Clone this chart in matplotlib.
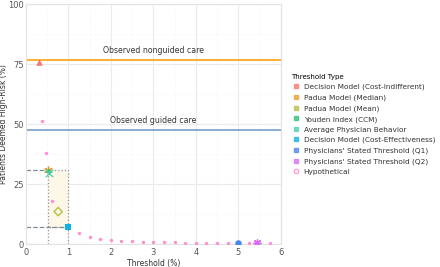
import matplotlib
matplotlib.use('Agg')
import matplotlib.pyplot as plt
from matplotlib.lines import Line2D
from matplotlib.patches import Rectangle

plt.rcParams['font.family'] = ['DejaVu Sans']

# observed reference lines
observed_nonguided = 76.5
observed_guided = 47.6

# hypothetical threshold curve
hyp_x = [0.38, 0.47, 0.61, 1.25, 1.5, 1.75, 2.0, 2.25, 2.5, 2.75, 3.0, 3.25, 3.5,
         3.75, 4.0, 4.25, 4.5, 4.75, 5.25, 5.75]
hyp_y = [51.5, 38.0, 18.2, 4.8, 3.2, 2.3, 1.8, 1.4, 1.2, 1.0, 0.9, 0.8, 0.8,
         0.7, 0.7, 0.6, 0.6, 0.5, 0.5, 0.4]

# named thresholds
labels = ['Decision Model (Cost-Indifferent)', 'Padua Model (Median)', 'Padua Model (Mean)',
          'Youden Index (CCM)', 'Average Physician Behavior',
          'Decision Model (Cost-Effectiveness)', "Physicians' Stated Threshold (Q1)",
          "Physicians' Stated Threshold (Q2)", 'Hypothetical']
thr_x = [0.31, 0.52, 0.76, 0.54, 0.55, 1.0, 5.0, 5.43]
thr_y = [75.8, 30.8, 13.6, 30.2, 29.6, 7.1, 0.5, 0.45]
colors = ['#F8766D', '#E7A12C', '#B5BE45', '#2FC07A', '#4FCFB0', '#0FB2E0',
          '#4A86F0', '#D96CF5', '#FF8FD0']

fig = plt.figure(figsize=(4.4, 2.67), dpi=100)
ax = fig.add_axes([0.059, 0.085, 0.579, 0.9])

# range of plausible thresholds
lo_x, hi_x = thr_x[1], thr_x[5]
lo_y, hi_y = thr_y[5], thr_y[1]
ax.add_patch(Rectangle((lo_x, lo_y), hi_x - lo_x, hi_y - lo_y, facecolor='#FEF6E6',
                       edgecolor='#8C96A0', linestyle=':', linewidth=0.9, zorder=1))
ax.plot([0, lo_x], [hi_y, hi_y], color='#7F8A94', linestyle='--', linewidth=0.9, zorder=1)
ax.plot([0, hi_x], [lo_y, lo_y], color='#7F8A94', linestyle='--', linewidth=0.9, zorder=1)
ax.plot([lo_x, lo_x], [0, lo_y], color='#8C96A0', linestyle=':', linewidth=0.9, zorder=1)
ax.plot([hi_x, hi_x], [0, lo_y], color='#8C96A0', linestyle=':', linewidth=0.9, zorder=1)

ax.axhline(observed_nonguided, color='#FFA91F', linewidth=1.3, zorder=2)
ax.axhline(observed_guided, color='#7FA6D2', linewidth=1.3, zorder=2)
ax.text(3.0, observed_nonguided + 2.2, 'Observed nonguided care', ha='center', va='bottom',
        fontsize=5.6, color='#333333')
ax.text(3.0, observed_guided + 2.2, 'Observed guided care', ha='center', va='bottom',
        fontsize=5.6, color='#333333')

ax.scatter(hyp_x, hyp_y, s=6, color=colors[8], zorder=3, linewidths=0)

markers = ['^', (6, 2, 0), 'D', 'P', 'x', 's', 'o', (8, 2, 0)]
for i in range(8):
    m = markers[i]
    if m == 'D':
        ax.scatter(thr_x[i], thr_y[i], s=18, marker=m, facecolors='none',
                   edgecolors=colors[i], linewidths=1.0, zorder=4)
    elif m in ('x',) or isinstance(m, tuple):
        ax.scatter(thr_x[i], thr_y[i], s=28, marker=m, color=colors[i], linewidths=1.0, zorder=4)
    else:
        ax.scatter(thr_x[i], thr_y[i], s=22, marker=m, color=colors[i], linewidths=0, zorder=4)

ax.set_xlim(0, 6)
ax.set_ylim(0, 100)
ax.set_xticks(range(0, 7))
ax.set_yticks([0, 25, 50, 75, 100])
ax.set_xticks([i + 0.5 for i in range(6)], minor=True)
ax.set_yticks([12.5, 37.5, 62.5, 87.5], minor=True)
ax.grid(True, which='major', color='#EBEBEB', linewidth=0.8)
ax.grid(True, which='minor', color='#F2F2F2', linewidth=0.6, linestyle=':')
ax.set_axisbelow(True)
for s in ax.spines.values():
    s.set_color('#E3E3E3')
    s.set_linewidth(0.8)
ax.tick_params(which='both', length=0, labelsize=6.0, labelcolor='#555555')
ax.tick_params(axis='y', pad=1.5)
ax.tick_params(axis='x', pad=3)
ax.set_xlabel('Threshold (%)', fontsize=5.5, color='#333333', labelpad=1)
ax.set_ylabel('Patients Deemed High-Risk (%)', fontsize=5.5, color='#333333')
ax.yaxis.set_label_coords(-0.072, 0.5)

handles = []
for i, lab in enumerate(labels):
    if lab == 'Hypothetical':
        h = Line2D([], [], linestyle='none', marker='o', markersize=3.2, markerfacecolor='none',
                   markeredgecolor=colors[i], markeredgewidth=0.8)
    else:
        h = Line2D([], [], linestyle='none', marker='s', markersize=2.4, color=colors[i],
                   alpha=0.75)
    handles.append(h)
leg = fig.legend(handles, labels, title='Threshold Type', loc='upper left',
                 bbox_to_anchor=(0.655, 0.735), frameon=False, fontsize=5.3,
                 title_fontsize=5.0, handletextpad=0.3, labelspacing=0.55,
                 handlelength=1.4, borderaxespad=0)
leg._legend_box.align = 'left'
for t in leg.get_texts():
    t.set_color('#333333')

fig.savefig('out.png', dpi=100)
